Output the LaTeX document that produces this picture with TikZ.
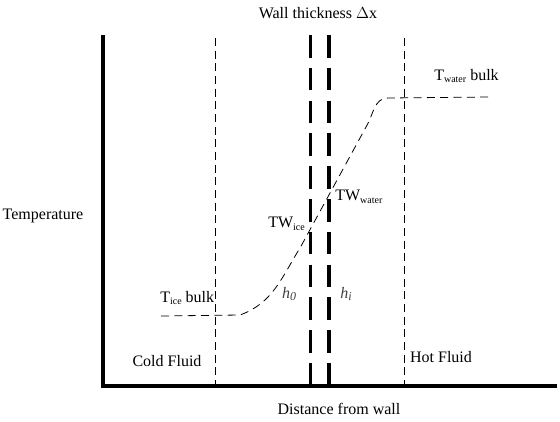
\documentclass[tikz,border=0pt]{standalone}
\usepackage{fontspec}
\setmainfont{Liberation Serif}
\begin{document}
\begin{tikzpicture}[x=0.75pt,y=-0.75pt,
  axis/.style={line width=2.4pt},
  thinwall/.style={line width=0.6pt, dash pattern=on 6pt off 3.5pt},
  thickwall/.style={line width=2.4pt, dash pattern=on 17pt off 7.6pt},
  profile/.style={line width=0.6pt, dash pattern=on 6pt off 4pt},
  lbl/.style={inner sep=0pt, font=\fontsize{12pt}{14pt}\selectfont},
  sub/.style={}]
\useasboundingbox (0,0) rectangle (560,421);
% axes
\coordinate (o) at (103,386);
\coordinate (ytop) at (103,35);
\coordinate (xend) at (557,386);
\draw[axis] (ytop) -- (o) -- (xend);
% thin dashed boundary layers
\coordinate (c1t) at (215,38); \coordinate (c1b) at (215,386);
\coordinate (c2t) at (404,38); \coordinate (c2b) at (404,386);
\draw[thinwall] (c1t) -- (c1b);
\draw[thinwall] (c2t) -- (c2b);
% thick dashed wall
\coordinate (w1t) at (310.5,35); \coordinate (w1b) at (310.5,386);
\coordinate (w2t) at (329,35); \coordinate (w2b) at (329,386);
\draw[thickwall] (w1t) -- (w1b);
\draw[thickwall] (w2t) -- (w2b);
% temperature profile
\coordinate (p0) at (161,316);
\coordinate (p1) at (240,315);
\coordinate (p2) at (300,248);
\coordinate (p3) at (366,127);
\coordinate (p4) at (388,98);
\coordinate (p5) at (490,97);
\draw[profile] (p0) -- (p1) to[out=20,in=238] (p2) -- (p3) to[out=58,in=180] (p4) -- (p5);
% labels
\node[lbl] (title) at (318,13) {Wall thickness $\Delta$x};
\node[lbl] (temp) at (43,216) {Temperature};
\node[lbl] (dist) at (339,409) {Distance from wall};
\node[lbl] (cold) at (167,361) {Cold Fluid};
\node[lbl] (hot) at (441,357) {Hot Fluid};
\node[lbl,anchor=west] (twb) at (434,76) {T\raisebox{-0.35ex}{\fontsize{7.5pt}{8pt}\selectfont water} bulk};
\node[lbl,anchor=west] (tib) at (160,298) {T\raisebox{-0.35ex}{\fontsize{7.5pt}{8pt}\selectfont ice} bulk};
\node[lbl,anchor=west] (tww) at (335,197) {TW\raisebox{-0.35ex}{\fontsize{7.5pt}{8pt}\selectfont water}};
\node[lbl,anchor=west] (twi) at (268,224) {TW\raisebox{-0.35ex}{\fontsize{7.5pt}{8pt}\selectfont ice}};
\node[lbl,text=black!75] (h0) at (289,294) {\textit{h}\raisebox{-0.35ex}{\fontsize{9pt}{9pt}\selectfont\textit{0}}};
\node[lbl,text=black!75] (hi) at (346,294) {\textit{h}\raisebox{-0.35ex}{\fontsize{9pt}{9pt}\selectfont\textit{i}}};
\end{tikzpicture}
\end{document}
